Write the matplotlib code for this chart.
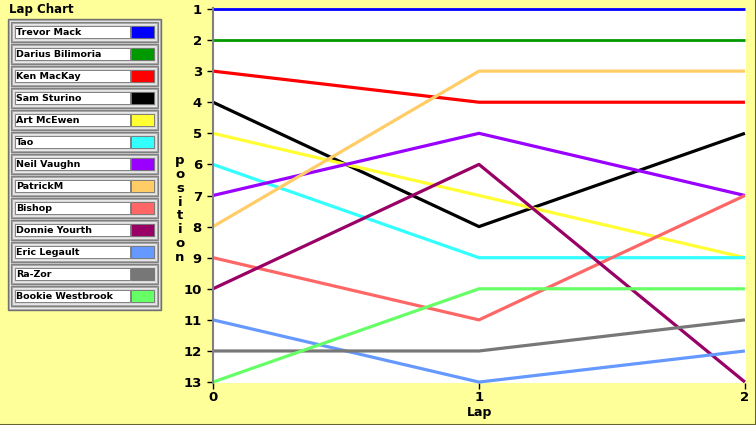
import matplotlib
matplotlib.use('Agg')
import matplotlib.pyplot as plt
from matplotlib.patches import Rectangle
from matplotlib.lines import Line2D

# lap chart data
laps = [0, 1, 2]
drivers = ['Trevor Mack', 'Darius Bilimoria', 'Ken MacKay', 'Sam Sturino', 'Art McEwen', 'Tao',
           'Neil Vaughn', 'PatrickM', 'Bishop', 'Donnie Yourth', 'Eric Legault', 'Ra-Zor',
           'Bookie Westbrook']
positions = [
    [1, 1, 1],
    [2, 2, 2],
    [3, 4, 4],
    [4, 8, 5],
    [5, 7, 9],
    [6, 9, 9],
    [7, 5, 7],
    [8, 3, 3],
    [9, 11, 7],
    [10, 6, 13],
    [11, 13, 12],
    [12, 12, 11],
    [13, 10, 10],
]
colors = ['#0000ff', '#009900', '#ff0000', '#000000', '#ffff33', '#33ffff', '#9900ff',
          '#ffcc66', '#ff6666', '#990066', '#6699ff', '#777777', '#66ff66']
ytick_vals = list(range(1, 14))

W, H = 756, 425
bg = '#ffff99'
fig = plt.figure(figsize=(W / 100, H / 100), dpi=100, facecolor=bg)

def px(x, y):
    return x / W, 1 - y / H

def rect(x0, y0, x1, y1, fc, ec=None, lw=0):
    a, b = px(x0, y1)
    fig.add_artist(Rectangle((a, b), (x1 - x0) / W, (y1 - y0) / H, facecolor=fc,
                             edgecolor=ec if ec else fc, linewidth=lw, transform=fig.transFigure))

# plot area
l, t = px(213, 8)
r, b = px(746, 383)
ax = fig.add_axes([l, b, r - l, t - b])
ax.set_facecolor('white')
for name, pos, c in zip(drivers, positions, colors):
    lw = 2.0 if c in ('#0000ff', '#009900') else 2.3
    ax.plot(laps, pos, color=c, linewidth=lw, solid_capstyle='butt', clip_on=False)
ax.set_xlim(0, 2.004)
ax.set_ylim(13.03, 0.97)
ax.set_yticks(ytick_vals)
ax.set_xticks(laps)
for s in ['top', 'right', 'bottom']:
    ax.spines[s].set_visible(False)
ax.spines['left'].set_color('#808080')
ax.spines['left'].set_linewidth(1.5)
ax.tick_params(axis='y', length=4, width=1, color='black', pad=4, labelsize=9.5)
ax.tick_params(axis='x', length=4, width=1, color='black', pad=2, labelsize=9.5)
for lab in ax.get_xticklabels() + ax.get_yticklabels():
    lab.set_fontweight('bold')
ax.set_xlabel('Lap', fontsize=9, fontweight='bold', labelpad=1)

# vertical stacked y label
x0, y0 = px(180, 209)
fig.text(x0, y0, '\n'.join('position'), ha='center', va='center', fontsize=9.5,
         linespacing=1.08, fontweight='bold')

# title
x0, y0 = px(9, 9)
fig.text(x0, y0, 'Lap Chart', ha='left', va='center', fontsize=8.5, fontweight='bold')

# legend panel
rect(8, 19, 161, 310, '#b4b4b4', '#707070', 1)
rect(10, 21, 159, 308, '#c8c8c8', '#e8e8e8', 0.8)
for i, (name, c) in enumerate(zip(drivers, colors)):
    top = 22 + 22 * i
    rect(11, top, 158, top + 20, '#a8a8a8', '#808080', 0.8)
    rect(13, top + 2, 156, top + 18, '#d8d8d8', '#f0f0f0', 0.6)
    rect(15, top + 4, 130, top + 16, 'white', '#707070', 0.6)
    rect(131, top + 4, 154, top + 16, c, '#707070', 0.6)
    tx, ty = px(16, top + 10.5)
    fig.text(tx, ty, name, ha='left', va='center', fontsize=6.8, fontweight='bold')

# figure border bottom / right
fig.add_artist(Line2D([0, 1], [0.5 / H, 0.5 / H], color='#666633', linewidth=1.5,
                      transform=fig.transFigure))
fig.add_artist(Line2D([1 - 0.5 / W, 1 - 0.5 / W], [0, 1], color='#666633', linewidth=1.5,
                      transform=fig.transFigure))

fig.savefig('out.png', dpi=100, facecolor=bg)
